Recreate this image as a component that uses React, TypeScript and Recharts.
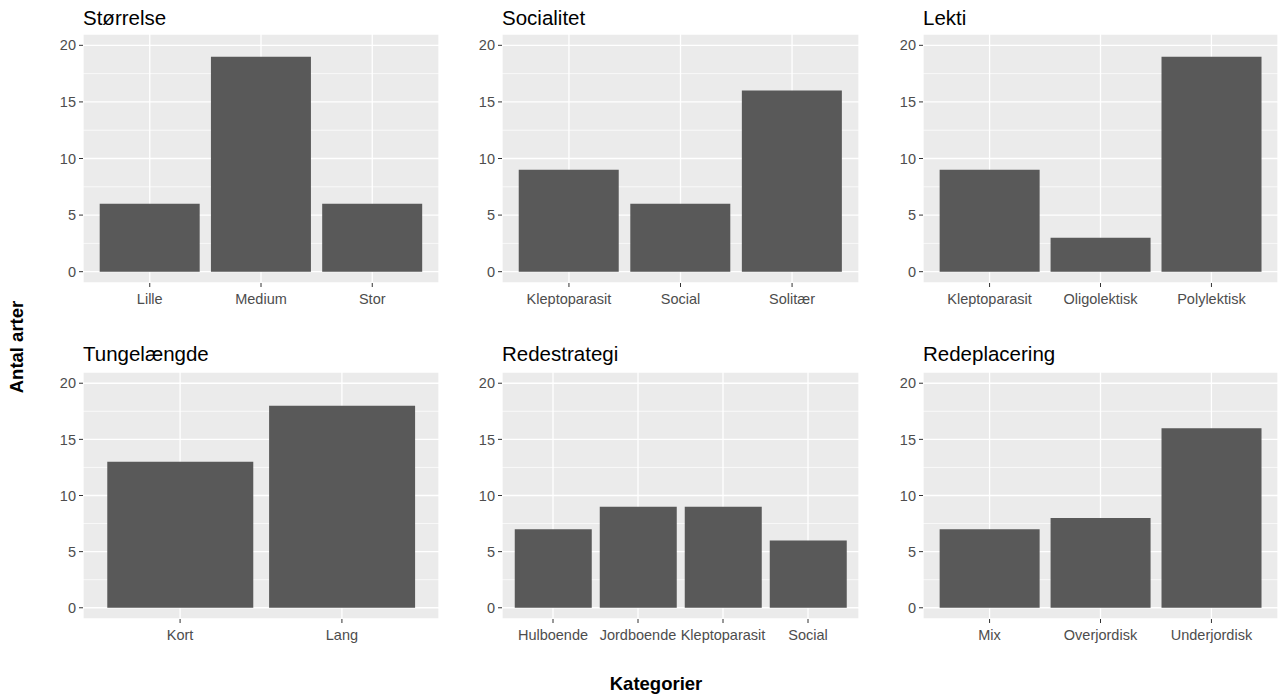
import React from 'react';
import { BarChart, Bar, XAxis, YAxis, CartesianGrid } from 'recharts';

const storrelseCategories = ['Lille', 'Medium', 'Stor'];
const storrelseValues = [6, 19, 6];

const socialitetCategories = ['Kleptoparasit', 'Social', 'Solitær'];
const socialitetValues = [9, 6, 16];

const lektiCategories = ['Kleptoparasit', 'Oligolektisk', 'Polylektisk'];
const lektiValues = [9, 3, 19];

const tungelaengdeCategories = ['Kort', 'Lang'];
const tungelaengdeValues = [13, 18];

const redestrategiCategories = ['Hulboende', 'Jordboende', 'Kleptoparasit', 'Social'];
const redestrategiValues = [7, 9, 9, 6];

const redeplaceringCategories = ['Mix', 'Overjordisk', 'Underjordisk'];
const redeplaceringValues = [7, 8, 16];

const yTicks = [0, 5, 10, 15, 20];
const yMinorTicks = [2.5, 7.5, 12.5, 17.5];
const yDomain: [number, number] = [-1, 21];

const xAxisTitle = 'Kategorier';
const yAxisTitle = 'Antal arter';

const FONT = '"Liberation Sans", Arial, Helvetica, sans-serif';
const Y_AXIS_W = 60;
const X_AXIS_H = 40;

type PanelProps = {
  categories: string[];
  values: number[];
  left: number;
  top: number;
  width: number;
  height: number;
};

function Panel({ categories, values, left, top, width, height }: PanelProps) {
  const data = categories.map((c, i) => ({ cat: c, value: values[i] }));
  const unit = width / (categories.length + 0.2);
  const pad = unit * 0.1;
  const tickStyle = { fill: '#4D4D4D', fontSize: 14.5, fontFamily: FONT };
  return (
    <div style={{ position: 'absolute', left: left - Y_AXIS_W, top }}>
      <BarChart
        width={width + Y_AXIS_W}
        height={height + X_AXIS_H}
        data={data}
        margin={{ top: 0, right: 0, bottom: 0, left: 0 }}
        barCategoryGap="5%"
      >
        <CartesianGrid fill="#EBEBEB" fillOpacity={1} stroke="#FFFFFF" strokeWidth={1.3} />
        <CartesianGrid stroke="#FFFFFF" strokeWidth={0.7} vertical={false} horizontalValues={yMinorTicks} />
        <XAxis
          dataKey="cat"
          type="category"
          interval={0}
          padding={{ left: pad, right: pad }}
          height={X_AXIS_H}
          axisLine={false}
          tickLine={{ stroke: '#333333', strokeWidth: 1 }}
          tickSize={4}
          tickMargin={7}
          tick={tickStyle}
        />
        <YAxis
          type="number"
          domain={yDomain}
          ticks={yTicks}
          width={Y_AXIS_W}
          axisLine={false}
          tickLine={{ stroke: '#333333', strokeWidth: 1 }}
          tickSize={4}
          tickMargin={3}
          tick={tickStyle}
        />
        <Bar dataKey="value" fill="#595959" isAnimationActive={false} />
      </BarChart>
    </div>
  );
}

const ROW1_TOP = 34;
const ROW1_H = 249;
const ROW2_TOP = 372;
const ROW2_H = 247;
const COL_LEFTS = [83, 502, 923];
const COL_WIDTHS = [356, 357, 355];

const panels = [
  { title: 'Størrelse', categories: storrelseCategories, values: storrelseValues, row: 0, col: 0 },
  { title: 'Socialitet', categories: socialitetCategories, values: socialitetValues, row: 0, col: 1 },
  { title: 'Lekti', categories: lektiCategories, values: lektiValues, row: 0, col: 2 },
  { title: 'Tungelængde', categories: tungelaengdeCategories, values: tungelaengdeValues, row: 1, col: 0 },
  { title: 'Redestrategi', categories: redestrategiCategories, values: redestrategiValues, row: 1, col: 1 },
  { title: 'Redeplacering', categories: redeplaceringCategories, values: redeplaceringValues, row: 1, col: 2 },
];

export default function App() {
  return (
    <div
      style={{
        position: 'absolute',
        left: 0,
        top: 0,
        width: 1278,
        height: 696,
        background: '#FFFFFF',
        overflow: 'hidden',
        fontFamily: FONT,
      }}
    >
      {panels.map((p) => (
        <Panel
          key={p.title}
          categories={p.categories}
          values={p.values}
          left={COL_LEFTS[p.col]}
          top={p.row === 0 ? ROW1_TOP : ROW2_TOP}
          width={COL_WIDTHS[p.col]}
          height={p.row === 0 ? ROW1_H : ROW2_H}
        />
      ))}
      <svg
        width={1278}
        height={696}
        style={{ position: 'absolute', left: 0, top: 0, pointerEvents: 'none' }}
      >
        {panels.map((p) => (
          <text
            key={p.title}
            x={COL_LEFTS[p.col]}
            y={p.row === 0 ? 25 : 361}
            fontSize={20.5}
            fontFamily={FONT}
            fill="#000000"
          >
            {p.title}
          </text>
        ))}
        <text
          x={656}
          y={690}
          textAnchor="middle"
          fontSize={18.5}
          fontWeight="bold"
          fontFamily={FONT}
          fill="#000000"
        >
          {xAxisTitle}
        </text>
        <text
          transform="translate(23,347) rotate(-90)"
          textAnchor="middle"
          fontSize={18.5}
          fontWeight="bold"
          fontFamily={FONT}
          fill="#000000"
        >
          {yAxisTitle}
        </text>
      </svg>
    </div>
  );
}
